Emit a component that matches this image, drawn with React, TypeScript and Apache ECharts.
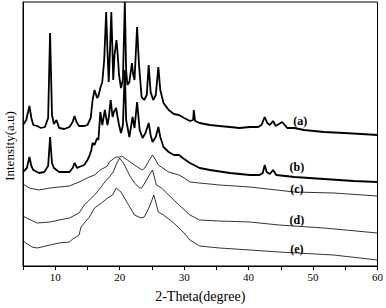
import React, { useEffect, useRef } from "react";
import * as echarts from "echarts";

// 2-Theta (degree) and intensity (a.u., offset-stacked)
const curveA: [number, number][] = [
  [5.0, 141], [5.5, 146], [6.0, 160], [6.3, 148], [6.6, 141], [7.2, 140], [7.8, 138], [8.4, 139],
  [8.9, 148], [9.2, 233], [9.5, 151], [9.8, 142], [10.2, 146], [10.6, 138], [11.4, 137], [12.2, 139],
  [12.7, 144], [13.0, 150], [13.3, 144], [13.7, 140], [14.5, 140], [15.0, 141], [15.5, 148], [15.8, 166],
  [16.1, 176], [16.5, 168], [16.7, 170], [17.0, 178], [17.3, 184], [17.6, 206], [17.9, 254], [18.1, 216],
  [18.3, 184], [18.5, 216], [18.7, 254], [18.9, 211], [19.0, 186], [19.2, 211], [19.5, 226], [19.7, 211],
  [19.9, 191], [20.2, 178], [20.5, 186], [20.8, 264], [21.0, 196], [21.2, 181], [21.5, 184], [21.9, 203],
  [22.1, 191], [22.3, 186], [22.7, 239], [23.0, 201], [23.4, 169], [23.8, 166], [24.2, 171], [24.5, 201],
  [24.8, 174], [25.2, 166], [25.6, 171], [26.0, 199], [26.3, 176], [26.8, 163], [27.6, 156], [28.4, 152],
  [29.2, 151], [30.0, 148], [30.9, 145], [31.4, 146], [31.5, 156], [31.7, 145], [32.4, 143], [34.0, 141],
  [35.5, 140], [37.1, 139], [38.6, 138], [40.2, 139], [41.5, 139], [42.0, 141], [42.5, 149], [42.9, 143],
  [43.3, 141], [43.8, 145], [44.2, 140], [45.2, 144], [46.0, 138], [47.1, 138], [48.6, 136], [51.7, 134],
  [54.8, 133], [57.5, 132], [60.0, 131],
];

const curveB: [number, number][] = [
  [5.0, 94], [5.6, 98], [6.0, 109], [6.3, 100], [6.6, 96], [7.5, 93], [8.3, 94], [8.9, 100],
  [9.2, 129], [9.5, 103], [9.8, 98], [10.6, 94], [12.2, 94], [12.7, 98], [13.0, 103], [13.4, 98],
  [13.7, 99], [14.5, 101], [15.0, 106], [15.3, 110], [15.6, 116], [15.8, 123], [16.1, 121], [16.5, 128],
  [16.7, 126], [17.0, 154], [17.3, 141], [17.7, 156], [18.1, 141], [18.3, 148], [18.6, 166], [18.9, 149],
  [19.1, 154], [19.45, 158], [19.7, 148], [19.9, 141], [20.2, 133], [20.5, 141], [20.8, 196], [21.0, 146],
  [21.5, 129], [22.0, 149], [22.3, 138], [22.7, 164], [23.1, 136], [23.55, 128], [24.0, 133], [24.5, 143],
  [24.8, 131], [25.1, 124], [25.6, 129], [26.0, 139], [26.3, 129], [26.8, 119], [27.6, 114], [28.4, 111],
  [29.2, 111], [30.0, 107], [30.9, 103], [32.4, 98], [34.0, 96], [37.1, 93], [40.2, 91], [41.7, 91],
  [42.2, 93], [42.5, 101], [42.8, 94], [43.3, 92], [43.8, 96], [44.3, 91], [47.1, 89], [51.7, 87],
  [56.3, 85], [60.0, 84],
];

const curveC: [number, number][] = [
  [5.0, 83], [5.2, 81], [6.0, 78], [7.5, 76], [9.2, 78], [10.6, 79], [12.2, 80], [13.7, 84],
  [15.3, 89], [16.1, 91], [17.0, 96], [18.1, 100], [18.4, 104], [19.0, 107], [19.45, 109], [20.0, 109],
  [20.3, 110], [21.2, 106], [22.3, 101], [23.0, 98], [23.55, 96], [23.9, 98], [24.6, 106], [25.1, 111],
  [25.4, 108], [26.0, 101], [27.6, 94], [29.2, 91], [30.0, 88], [30.9, 84], [32.4, 83], [35.5, 81],
  [40.2, 79], [47.1, 74], [53.2, 73], [60.0, 70],
];

const curveD: [number, number][] = [
  [5.0, 51], [5.2, 49], [7.2, 43], [9.2, 44], [10.6, 46], [12.2, 48], [13.7, 53], [14.5, 61],
  [16.1, 71], [16.5, 74], [17.7, 84], [18.4, 89], [19.0, 94], [19.5, 102], [20.0, 108], [20.75, 101],
  [21.5, 91], [22.3, 83], [23.1, 78], [23.4, 78], [23.9, 83], [24.6, 91], [25.1, 96], [25.7, 81],
  [26.5, 78], [27.6, 71], [29.2, 61], [30.9, 51], [32.4, 46], [35.5, 45], [40.2, 44], [44.7, 41],
  [51.7, 38], [60.0, 33],
];

const curveE: [number, number][] = [
  [5.0, 26], [5.2, 24], [6.4, 19], [7.2, 18], [9.2, 21], [10.6, 23], [12.2, 24], [12.5, 26],
  [13.7, 31], [14.0, 39], [15.3, 49], [16.1, 58], [17.2, 63], [18.1, 68], [18.9, 71], [19.45, 78],
  [20.2, 74], [21.2, 63], [22.3, 51], [23.3, 48], [23.8, 49], [24.6, 59], [25.3, 71], [26.0, 54],
  [26.8, 51], [28.4, 43], [29.2, 38], [30.0, 33], [30.9, 26], [32.4, 20], [35.5, 18], [40.2, 16],
  [44.7, 14], [53.2, 11], [60.0, 6],
];

const seriesNames = ["(a)", "(b)", "(c)", "(d)", "(e)"];
const seriesData = [curveA, curveB, curveC, curveD, curveE];
const seriesWidths = [1.8, 1.8, 0.8, 0.8, 0.8];
const labelAnchors: [number, number][] = [[48.0, 145], [47.5, 99], [47.5, 77], [47.5, 46], [47.5, 17]];

const SERIF = "Liberation Serif";

export default function App() {
  const ref = useRef<HTMLDivElement>(null);
  useEffect(() => {
    if (!ref.current) return;
    const chart = echarts.init(ref.current, undefined, { renderer: "svg" });
    chart.setOption({
      animation: false,
      textStyle: { fontFamily: SERIF },
      grid: {
        left: 23, right: 8, top: 2, bottom: 42,
        show: true, borderColor: "#000", borderWidth: 1, backgroundColor: "transparent",
      },
      xAxis: {
        type: "value", min: 5, max: 60, interval: 5,
        name: "2-Theta(degree)", nameLocation: "middle", nameGap: 23,
        nameTextStyle: { fontFamily: SERIF, fontSize: 14, color: "#000" },
        axisLine: { lineStyle: { color: "#000", width: 1 } },
        axisTick: { inside: false, length: 4, lineStyle: { color: "#000" } },
        splitLine: { show: false },
        axisLabel: {
          margin: 5, fontFamily: SERIF, fontSize: 11, color: "#000",
          formatter: (v: number) => (v % 10 === 0 ? String(v) : ""),
        },
      },
      yAxis: {
        type: "value", min: 0, max: 264,
        axisLine: { show: true, lineStyle: { color: "#000" } },
        axisTick: { show: false }, axisLabel: { show: false }, splitLine: { show: false },
      },
      graphic: [
        {
          type: "text", x: 9, y: 146, rotation: Math.PI / 2,
          style: {
            text: "Intensity(a.u)", fontFamily: SERIF, fontSize: 13, fill: "#000",
            textAlign: "center", textVerticalAlign: "middle",
          },
        },
      ],
      series: seriesData.map((d, i) => ({
        type: "line", name: seriesNames[i], data: d, showSymbol: false, symbol: "none",
        lineStyle: { color: "#000", width: seriesWidths[i] },
        markPoint: {
          symbol: "circle", symbolSize: 1, itemStyle: { color: "transparent" },
          label: {
            show: true, position: "inside", formatter: seriesNames[i], color: "#000",
            fontFamily: SERIF, fontSize: 12, fontWeight: "bold",
          },
          data: [{ coord: labelAnchors[i] }],
        },
      })),
    });
    return () => chart.dispose();
  }, []);
  return <div ref={ref} style={{ width: 386, height: 308, position: "absolute", left: 0, top: 0 }} />;
}
